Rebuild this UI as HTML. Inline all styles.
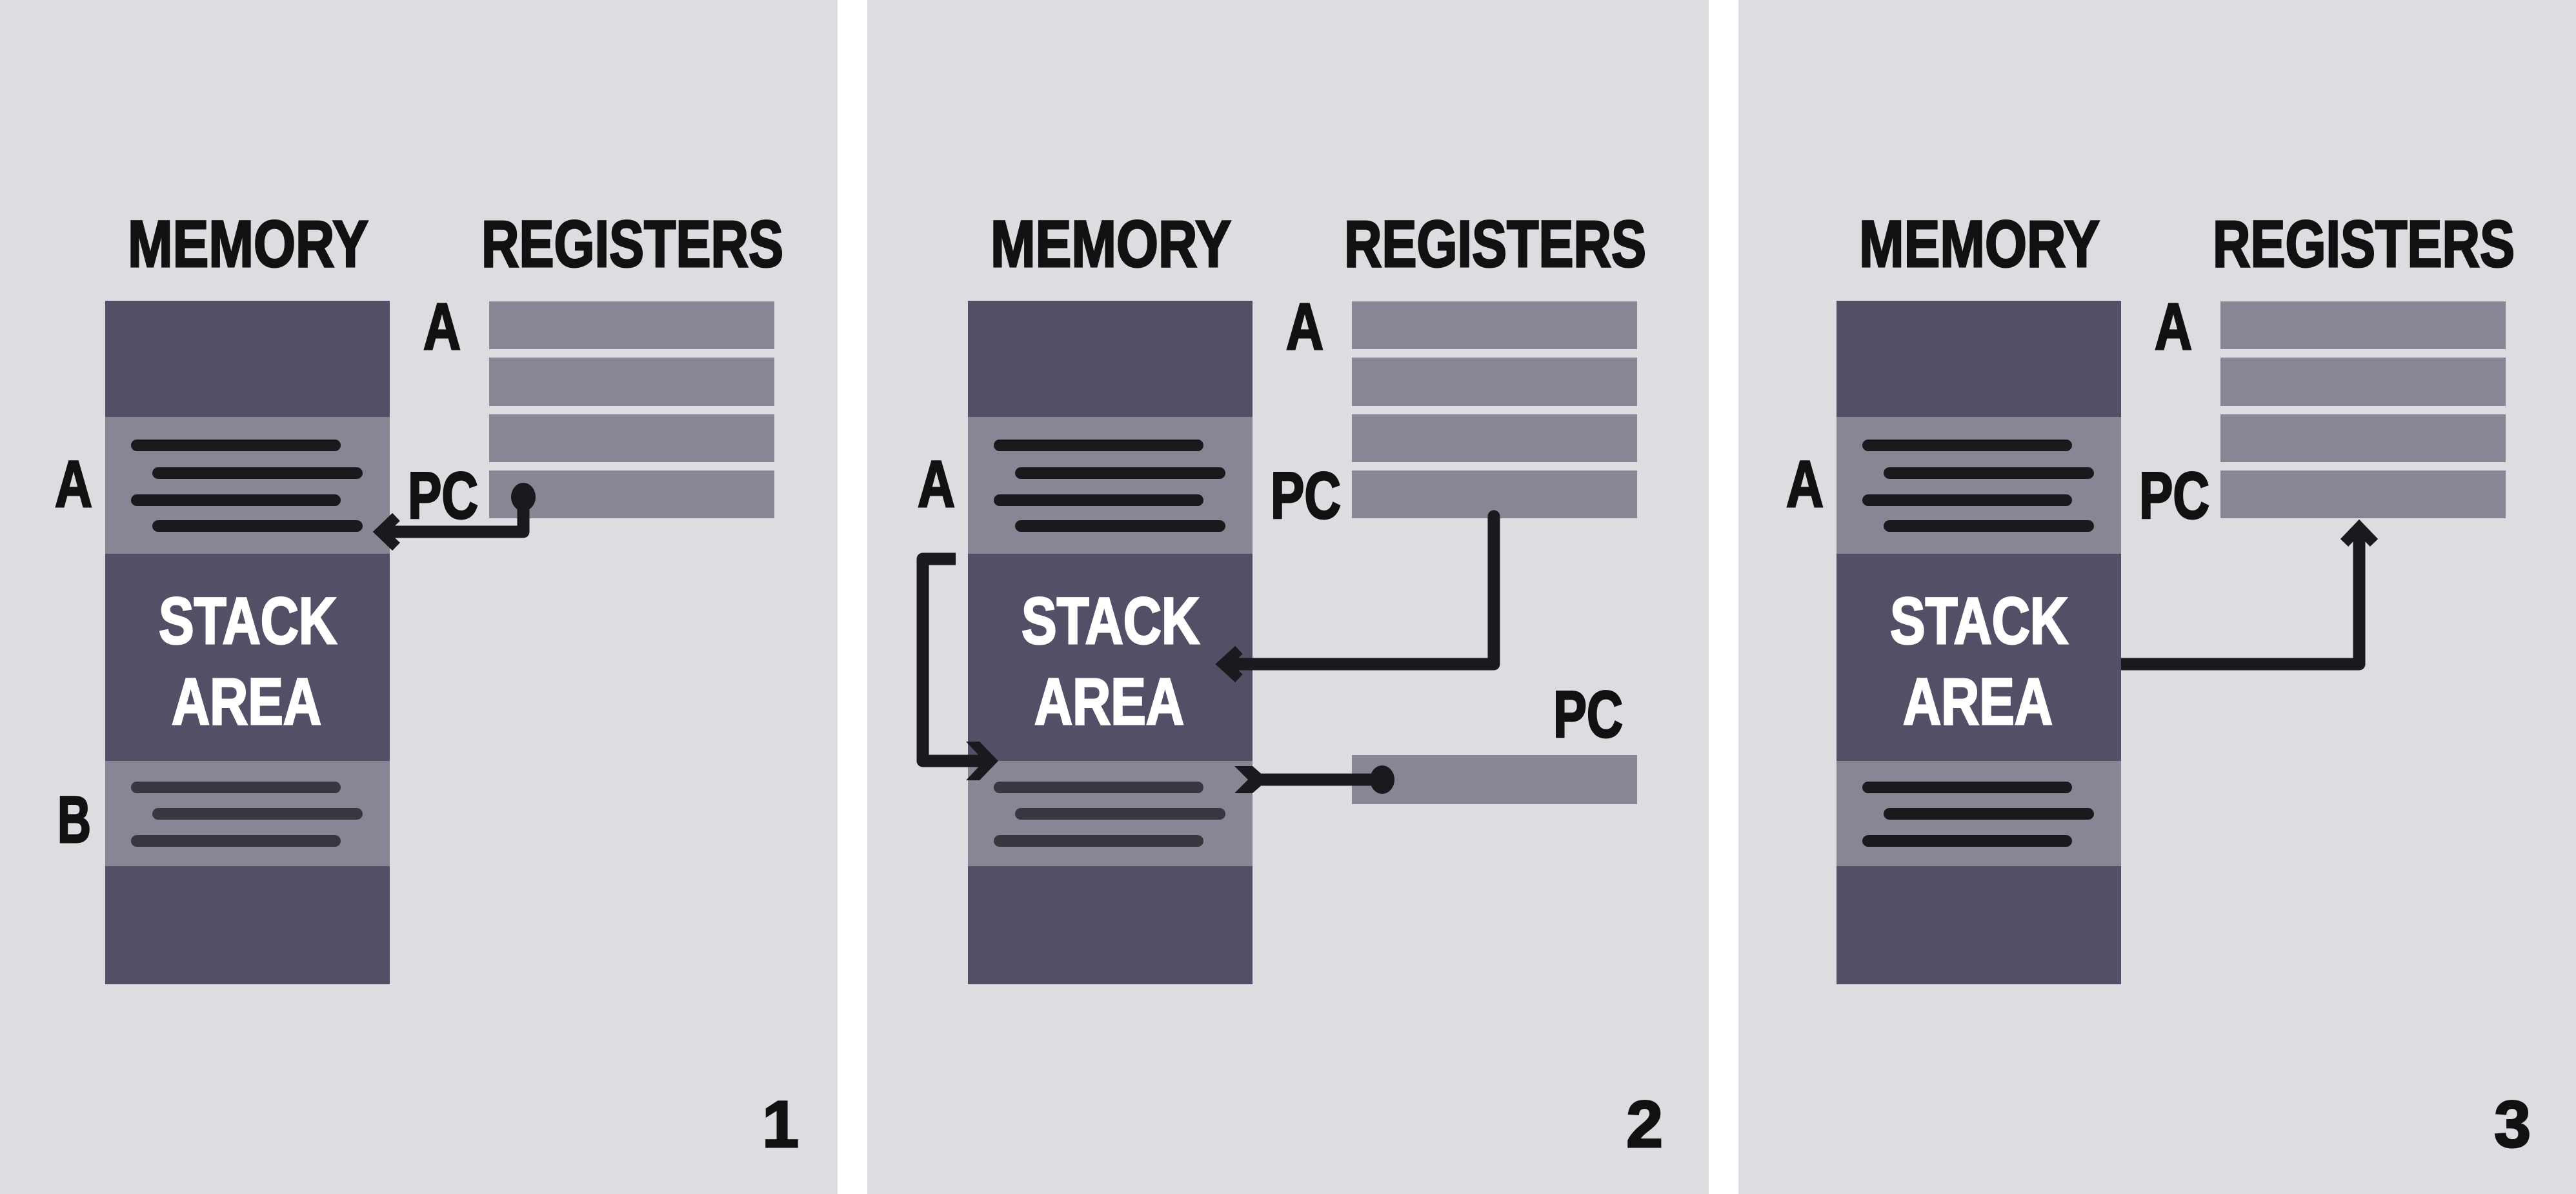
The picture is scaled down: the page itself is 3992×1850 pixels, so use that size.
<!DOCTYPE html>
<html><head><meta charset="utf-8"><style>
html,body{margin:0;padding:0;background:#fff;}
svg{display:block;}
text{font-family:"Liberation Sans",sans-serif;font-weight:bold;font-size:102px;stroke-width:3px;}
text[fill="#111"]{stroke:#111;}
text[fill="#fff"]{stroke:#fff;}
</style></head><body>
<svg width="3992" height="1850" viewBox="0 0 3992 1850">
<rect x="0" y="0" width="3992" height="1850" fill="#ffffff"/>
<rect x="0" y="0" width="1298" height="1850" fill="#dddce1"/>
<rect x="1344" y="0" width="1304" height="1850" fill="#dddce1"/>
<rect x="2694" y="0" width="1298" height="1850" fill="#dddce1"/>

<!-- PANEL 1 -->
<g>
<text x="198" y="413" textLength="373" lengthAdjust="spacingAndGlyphs" fill="#111">MEMORY</text>
<text x="746" y="413" textLength="468" lengthAdjust="spacingAndGlyphs" fill="#111">REGISTERS</text>
<rect x="163" y="466" width="441" height="180" fill="#544f66"/>
<rect x="163" y="646" width="441" height="212" fill="#8a8594"/>
<rect x="163" y="858" width="441" height="321" fill="#544f66"/>
<rect x="163" y="1179" width="441" height="163" fill="#8a8594"/>
<rect x="163" y="1342" width="441" height="183" fill="#544f66"/>
<g stroke="#1a191e" stroke-width="18" stroke-linecap="round">
<line x1="212" y1="690" x2="519" y2="690"/><line x1="245" y1="733" x2="553" y2="733"/>
<line x1="212" y1="775" x2="519" y2="775"/><line x1="245" y1="815" x2="553" y2="815"/>
</g>
<g stroke="#38363f" stroke-width="18" stroke-linecap="round">
<line x1="212" y1="1220" x2="519" y2="1220"/><line x1="245" y1="1261" x2="553" y2="1261"/><line x1="212" y1="1303" x2="519" y2="1303"/>
</g>
<text x="246" y="997" textLength="276" lengthAdjust="spacingAndGlyphs" fill="#fff">STACK</text>
<text x="266" y="1122" textLength="232" lengthAdjust="spacingAndGlyphs" fill="#fff">AREA</text>
<text x="85" y="785" textLength="58" lengthAdjust="spacingAndGlyphs" fill="#111">A</text>
<text x="89" y="1305" textLength="52" lengthAdjust="spacingAndGlyphs" fill="#111">B</text>
<g fill="#8a8594">
<rect x="758" y="467" width="442" height="74"/><rect x="758" y="554" width="442" height="75"/>
<rect x="758" y="642" width="442" height="74"/><rect x="758" y="729" width="442" height="74"/>
</g>
<text x="656" y="541" textLength="58" lengthAdjust="spacingAndGlyphs" fill="#111">A</text>
<text x="632" y="803" textLength="109" lengthAdjust="spacingAndGlyphs" fill="#111">PC</text>
<g>
<path d="M811,770 V824 H595" fill="none" stroke="#1a191e" stroke-width="19" stroke-linejoin="round"/>
<polyline points="614,801 590,824 614,847" fill="none" stroke="#1a191e" stroke-width="17"/>
<ellipse cx="811" cy="770" rx="19" ry="22" fill="#1a191e"/>
</g>
<text x="1238" y="1777" text-anchor="end" fill="#111">1</text>
</g>

<!-- PANEL 2 -->
<g transform="translate(1337,0)">
<text x="198" y="413" textLength="373" lengthAdjust="spacingAndGlyphs" fill="#111">MEMORY</text>
<text x="746" y="413" textLength="468" lengthAdjust="spacingAndGlyphs" fill="#111">REGISTERS</text>
<rect x="163" y="466" width="441" height="180" fill="#544f66"/>
<rect x="163" y="646" width="441" height="212" fill="#8a8594"/>
<rect x="163" y="858" width="441" height="321" fill="#544f66"/>
<rect x="163" y="1179" width="441" height="163" fill="#8a8594"/>
<rect x="163" y="1342" width="441" height="183" fill="#544f66"/>
<g stroke="#1a191e" stroke-width="18" stroke-linecap="round">
<line x1="212" y1="690" x2="519" y2="690"/><line x1="245" y1="733" x2="553" y2="733"/>
<line x1="212" y1="775" x2="519" y2="775"/><line x1="245" y1="815" x2="553" y2="815"/>
</g>
<g stroke="#38363f" stroke-width="18" stroke-linecap="round">
<line x1="212" y1="1220" x2="519" y2="1220"/><line x1="245" y1="1261" x2="553" y2="1261"/><line x1="212" y1="1303" x2="519" y2="1303"/>
</g>
<text x="246" y="997" textLength="276" lengthAdjust="spacingAndGlyphs" fill="#fff">STACK</text>
<text x="266" y="1122" textLength="232" lengthAdjust="spacingAndGlyphs" fill="#fff">AREA</text>
<text x="85" y="785" textLength="58" lengthAdjust="spacingAndGlyphs" fill="#111">A</text>
<g fill="#8a8594">
<rect x="758" y="467" width="442" height="74"/><rect x="758" y="554" width="442" height="75"/>
<rect x="758" y="642" width="442" height="74"/><rect x="758" y="729" width="442" height="74"/>
</g>
<rect x="758" y="1170" width="442" height="76" fill="#8a8594"/>
<text x="656" y="541" textLength="58" lengthAdjust="spacingAndGlyphs" fill="#111">A</text>
<text x="632" y="803" textLength="109" lengthAdjust="spacingAndGlyphs" fill="#111">PC</text>
<text x="1070" y="1142" textLength="108" lengthAdjust="spacingAndGlyphs" fill="#111">PC</text>
<g>
<path d="M978,800 V1029 H566" fill="none" stroke="#1a191e" stroke-width="19" stroke-linejoin="round" stroke-linecap="round"/>
<polyline points="583,1007 559,1029 583,1051" fill="none" stroke="#1a191e" stroke-width="17"/>
</g>
<g>
<path d="M144,866 H93 V1179 H200" fill="none" stroke="#1a191e" stroke-width="19" stroke-linejoin="round"/>
<polygon points="160,1149 181,1149 210,1179 181,1209 160,1209 188,1179" fill="#1a191e"/>
</g>
<g>
<line x1="805" y1="1208" x2="615" y2="1208" stroke="#1a191e" stroke-width="19"/>
<polygon points="576,1187 604,1187 628,1208 604,1229 576,1229 597,1208" fill="#1a191e"/>
<ellipse cx="805" cy="1208" rx="19" ry="22" fill="#1a191e"/>
</g>
<text x="1240" y="1777" text-anchor="end" fill="#111">2</text>
</g>

<!-- PANEL 3 -->
<g transform="translate(2683,0)">
<text x="198" y="413" textLength="373" lengthAdjust="spacingAndGlyphs" fill="#111">MEMORY</text>
<text x="746" y="413" textLength="468" lengthAdjust="spacingAndGlyphs" fill="#111">REGISTERS</text>
<rect x="163" y="466" width="441" height="180" fill="#544f66"/>
<rect x="163" y="646" width="441" height="212" fill="#8a8594"/>
<rect x="163" y="858" width="441" height="321" fill="#544f66"/>
<rect x="163" y="1179" width="441" height="163" fill="#8a8594"/>
<rect x="163" y="1342" width="441" height="183" fill="#544f66"/>
<g stroke="#1a191e" stroke-width="18" stroke-linecap="round">
<line x1="212" y1="690" x2="519" y2="690"/><line x1="245" y1="733" x2="553" y2="733"/>
<line x1="212" y1="775" x2="519" y2="775"/><line x1="245" y1="815" x2="553" y2="815"/>
</g>
<g stroke="#1a191e" stroke-width="18" stroke-linecap="round">
<line x1="212" y1="1220" x2="519" y2="1220"/><line x1="245" y1="1261" x2="553" y2="1261"/><line x1="212" y1="1303" x2="519" y2="1303"/>
</g>
<text x="246" y="997" textLength="276" lengthAdjust="spacingAndGlyphs" fill="#fff">STACK</text>
<text x="266" y="1122" textLength="232" lengthAdjust="spacingAndGlyphs" fill="#fff">AREA</text>
<text x="85" y="785" textLength="58" lengthAdjust="spacingAndGlyphs" fill="#111">A</text>
<g fill="#8a8594">
<rect x="758" y="467" width="442" height="74"/><rect x="758" y="554" width="442" height="75"/>
<rect x="758" y="642" width="442" height="74"/><rect x="758" y="729" width="442" height="74"/>
</g>
<text x="656" y="541" textLength="58" lengthAdjust="spacingAndGlyphs" fill="#111">A</text>
<text x="632" y="803" textLength="109" lengthAdjust="spacingAndGlyphs" fill="#111">PC</text>
<g>
<path d="M604,1029 H973 V822" fill="none" stroke="#1a191e" stroke-width="19" stroke-linejoin="round"/>
<polyline points="950,841 973,817 996,841" fill="none" stroke="#1a191e" stroke-width="17"/>
</g>
<text x="1239" y="1777" text-anchor="end" fill="#111">3</text>
</g>
</svg>
</body></html>
